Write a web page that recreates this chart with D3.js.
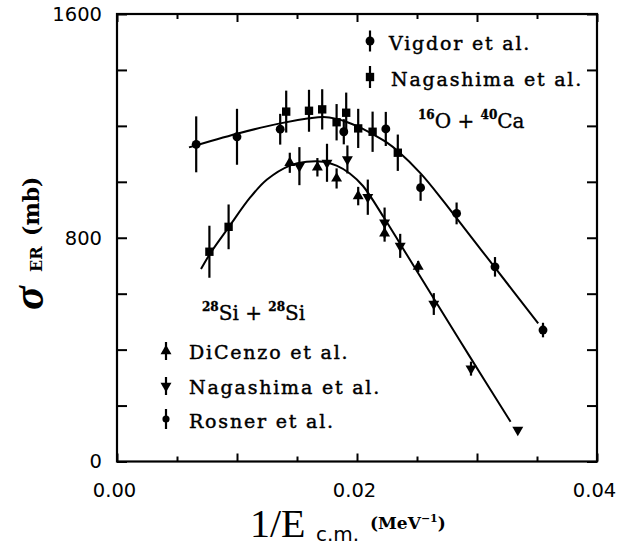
<!DOCTYPE html>
<html>
<head>
<meta charset="utf-8">
<script src="https://cdn.jsdelivr.net/npm/d3@7"></script>
<style>
  body { margin: 0; background: #fff; }
  svg { display: block; }
</style>
</head>
<body>
<svg id="chart" width="633" height="548"></svg>
<script>
// ---- 16O + 40Ca evaporation-residue cross sections (mb) vs 1/Ecm (MeV^-1)
const vigdorX   = [0.0066, 0.0100, 0.0136, 0.0189, 0.0224, 0.0253, 0.0283, 0.0315, 0.0355];
const vigdorY   = [1134, 1161, 1188, 1179, 1189, 979, 887, 696, 470];
const vigdorErr = [100, 100, 55, 45, 61, 47, 39, 35, 26];

const nagaCaX   = [0.0141, 0.0160, 0.0171, 0.0183, 0.0191, 0.0201, 0.0213, 0.0234];
const nagaCaY   = [1251, 1254, 1259, 1213, 1247, 1191, 1179, 1104];
const nagaCaErr = [75, 75, 72, 65, 72, 70, 72, 65];

// ---- 28Si + 28Si
const dicenzoX   = [0.0144, 0.0167, 0.0183, 0.0201, 0.0223, 0.0251];
const dicenzoY   = [1068, 1052, 1012, 949, 816, 697];
const dicenzoErr = [36, 33, 36, 33, 30, 20];

const nagaSiX   = [0.0152, 0.0175, 0.0192, 0.0209, 0.0223, 0.0236, 0.0264, 0.0295, 0.0334];
const nagaSiY   = [1056, 1068, 1080, 945, 854, 771, 563, 332, 113];
const nagaSiErr = [68, 68, 50, 63, 54, 43, 39, 25, 0];

const rosnerX   = [0.0077, 0.0093];
const rosnerY   = [750, 839];
const rosnerErr = [93, 80];

// ---- fitted curves
const caCurveX = [0.0060, 0.0100, 0.0136, 0.0160, 0.0172, 0.0183, 0.0192, 0.0201, 0.0214, 0.0225, 0.0234, 0.0253, 0.0272, 0.0283, 0.0315, 0.0351];
const caCurveY = [1123, 1172, 1209, 1227, 1232, 1225, 1213, 1197, 1168, 1140, 1110, 1030, 931, 870, 693, 494];

const siCurveX = [0.0070, 0.0078, 0.0093, 0.0111, 0.0125, 0.0144, 0.0158, 0.0172, 0.0183, 0.0194, 0.0205, 0.0222, 0.0236, 0.0250, 0.0264, 0.0294, 0.0328];
const siCurveY = [688, 746, 837, 944, 1008, 1058, 1072, 1072, 1058, 1030, 985, 875, 778, 680, 583, 375, 142];

// ---- ticks
const xMajorTicks = [0, 0.01, 0.02, 0.03, 0.04];
const xMinorTicks = [0.005, 0.015, 0.025, 0.035];
const xTickLabels = [0, 0.02, 0.04];
const yTicks      = [0, 200, 400, 600, 800, 1000, 1200, 1400, 1600];
const yTickLabels = [0, 800, 1600];

const svg = d3.select("#chart");
svg.append("rect").attr("width", 633).attr("height", 548).attr("fill", "#fff");

const x = d3.scaleLinear().domain([0, 0.04]).range([117, 597]);
const y = d3.scaleLinear().domain([0, 1600]).range([461.5, 14]);

const serif = "'DejaVu Serif', serif";
const sans = "'DejaVu Sans', sans-serif";

// ---- frame ticks
function tickAxis(gen, tx, ty) {
  const g = svg.append("g").attr("transform", `translate(${tx},${ty})`).call(gen);
  g.select(".domain").remove();
  g.selectAll(".tick line").attr("stroke", "#000").attr("stroke-width", 2);
  return g;
}
tickAxis(d3.axisBottom(x).tickValues(xMajorTicks).tickSizeInner(-8).tickSizeOuter(0).tickFormat(""), 0, 461.5);
tickAxis(d3.axisBottom(x).tickValues(xMinorTicks).tickSizeInner(-5).tickSizeOuter(0).tickFormat(""), 0, 461.5);
tickAxis(d3.axisTop(x).tickValues(xMajorTicks).tickSizeInner(-8).tickSizeOuter(0).tickFormat(""), 0, 14);
tickAxis(d3.axisTop(x).tickValues(xMinorTicks).tickSizeInner(-5).tickSizeOuter(0).tickFormat(""), 0, 14);
tickAxis(d3.axisLeft(y).tickValues(yTicks).tickSizeInner(-10).tickSizeOuter(0).tickFormat(""), 117, 0);
tickAxis(d3.axisRight(y).tickValues(yTicks).tickSizeInner(-10).tickSizeOuter(0).tickFormat(""), 597, 0);

svg.append("rect")
  .attr("x", x(0)).attr("y", y(1600))
  .attr("width", x(0.04) - x(0)).attr("height", y(0) - y(1600))
  .attr("fill", "none").attr("stroke", "#000").attr("stroke-width", 2.2);

// ---- tick labels
const yLab = svg.append("g").attr("transform", "translate(117,0)")
  .call(d3.axisLeft(y).tickValues(yTickLabels).tickSize(0).tickPadding(15).tickFormat(d3.format("d")));
yLab.select(".domain").remove();
yLab.selectAll("text").attr("font-family", sans).attr("font-size", 19.5).attr("fill", "#000");

const xLab = svg.append("g").attr("transform", "translate(-3,461.5)")
  .call(d3.axisBottom(x).tickValues(xTickLabels).tickSize(0).tickPadding(22).tickFormat(d3.format(".2f")));
xLab.select(".domain").remove();
xLab.selectAll("text").attr("font-family", sans).attr("font-size", 19.5).attr("fill", "#000");

// ---- curves
const line = d3.line().x(d => x(d[0])).y(d => y(d[1])).curve(d3.curveCatmullRom.alpha(0.5));
[[caCurveX, caCurveY], [siCurveX, siCurveY]].forEach(([xs, ys]) => {
  svg.append("path")
    .attr("d", line(xs.map((v, i) => [v, ys[i]])))
    .attr("fill", "none").attr("stroke", "#000").attr("stroke-width", 2);
});

// ---- data points with error bars
const symCircle = d3.symbol().type(d3.symbolCircle).size(62)();
const symSquare = d3.symbol().type(d3.symbolSquare).size(70)();
const symTri    = d3.symbol().type(d3.symbolTriangle).size(52)();

function series(xs, ys, errs, path, rot) {
  const g = svg.append("g");
  xs.forEach((v, i) => {
    const e = errs[i];
    if (e > 0) {
      g.append("line")
        .attr("x1", x(v)).attr("x2", x(v))
        .attr("y1", y(ys[i] - e)).attr("y2", y(ys[i] + e))
        .attr("stroke", "#000").attr("stroke-width", 2.2);
    }
    g.append("path").attr("d", path)
      .attr("transform", `translate(${x(v)},${y(ys[i])}) rotate(${rot})`)
      .attr("fill", "#000");
  });
}
series(vigdorX, vigdorY, vigdorErr, symCircle, 0);
series(nagaCaX, nagaCaY, nagaCaErr, symSquare, 0);
series(dicenzoX, dicenzoY, dicenzoErr, symTri, 0);
series(nagaSiX, nagaSiY, nagaSiErr, symTri, 180);
series(rosnerX, rosnerY, rosnerErr, symSquare, 0);

// ---- legends
function legendItem(mx, my, half, path, rot, label, tx, ty) {
  svg.append("line").attr("x1", mx).attr("x2", mx).attr("y1", my - half).attr("y2", my + half)
    .attr("stroke", "#000").attr("stroke-width", 2.2);
  svg.append("path").attr("d", path).attr("transform", `translate(${mx},${my}) rotate(${rot})`).attr("fill", "#000");
  svg.append("text").attr("x", tx).attr("y", ty).text(label)
    .attr("font-family", serif).attr("font-size", 19).attr("letter-spacing", 1.8)
    .attr("fill", "#000").attr("stroke", "#000").attr("stroke-width", 0.45);
}
legendItem(370, 41, 10.5, symCircle, 0, "Vigdor et al.", 389, 49.5);
legendItem(370, 77, 11, symSquare, 0, "Nagashima et al.", 391, 86);
legendItem(166, 351, 9, symTri, 0, "DiCenzo et al.", 189, 359);
legendItem(166, 386, 9, symTri, 180, "Nagashima et al.", 189, 393.5);
legendItem(166, 419, 10, d3.symbol().type(d3.symbolCircle).size(40)(), 0, "Rosner et al.", 189, 427.5);

// reaction labels
function reaction(x0, base, parts) {
  const t = svg.append("text").attr("x", x0).attr("y", base).attr("font-family", serif)
    .attr("fill", "#000").attr("stroke", "#000").attr("stroke-width", 0.35);
  parts.forEach(p => {
    const s = t.append("tspan").text(p.t).attr("font-size", p.sup ? 12 : 20);
    if (p.sup) s.attr("font-weight", "bold").attr("dy", -9);
    else if (p.after) s.attr("dy", 9);
  });
}
reaction(418, 127.5, [{t: "16", sup: true}, {t: "O + ", after: true}, {t: "40", sup: true}, {t: "Ca", after: true}]);
reaction(202, 320, [{t: "28", sup: true}, {t: "Si + ", after: true}, {t: "28", sup: true}, {t: "Si", after: true}]);

// ---- axis titles
const yt = svg.append("g").attr("transform", "translate(43,0) rotate(-90)");
yt.append("text").attr("x", -310).attr("y", 0).text("σ")
  .attr("font-family", "'Liberation Serif', serif").attr("font-style", "italic").attr("font-weight", "bold")
  .attr("font-size", 44).attr("fill", "#000");
yt.append("text").attr("x", -272).attr("y", -1).text("ER")
  .attr("font-family", serif).attr("font-weight", "bold").attr("font-size", 16).attr("fill", "#000");
yt.append("text").attr("x", -236).attr("y", -4).text("(mb)")
  .attr("font-family", serif).attr("font-weight", "bold").attr("font-size", 22).attr("fill", "#000");

svg.append("text").attr("x", 250).attr("y", 537).text("1/E")
  .attr("font-family", "'Liberation Serif', serif").attr("font-size", 40).attr("fill", "#000");
svg.append("text").attr("x", 316).attr("y", 541).text("c.m.")
  .attr("font-family", sans).attr("font-size", 20).attr("fill", "#000");
const unit = svg.append("text").attr("x", 370).attr("y", 529)
  .attr("font-family", serif).attr("font-weight", "bold").attr("font-size", 17).attr("fill", "#000");
unit.append("tspan").text("(MeV");
unit.append("tspan").text("−1").attr("font-size", 11).attr("dy", -7);
unit.append("tspan").text(")").attr("dy", 7);
</script>
</body>
</html>
